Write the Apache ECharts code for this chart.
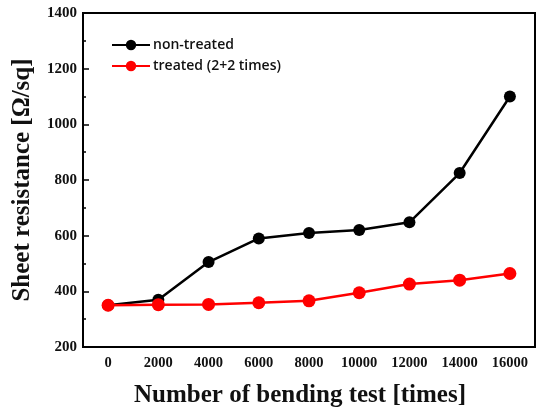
<!DOCTYPE html>
<html>
<head>
<meta charset="utf-8">
<script src="https://cdn.jsdelivr.net/npm/echarts@6/dist/echarts.min.js"></script>
<style>
  html, body { margin: 0; padding: 0; background: #fff; }
  #chart { width: 537px; height: 413px; }
</style>
</head>
<body>
<div id="chart"></div>
<script>
// bending cycles (x categories)
var cycles = ['0', '2000', '4000', '6000', '8000', '10000', '12000', '14000', '16000'];
// sheet resistance readings [ohm/sq]
var nonTreated = [350, 370, 505, 590, 610, 620, 648, 825, 1100];
var treated = [350, 352, 353, 359, 366, 395, 426, 440, 464];

var serif = '"Liberation Serif", "DejaVu Serif", serif';

var chart = echarts.init(document.getElementById('chart'));
chart.setOption({
  animation: false,
  grid: {
    left: 83, right: 2, top: 13, bottom: 64,
    show: true, borderColor: '#000', borderWidth: 2
  },
  legend: {
    orient: 'vertical',
    left: 106, top: 33,
    itemWidth: 38, itemHeight: 13, itemGap: 7,
    textStyle: { fontFamily: '"Open Sans", sans-serif', fontWeight: 600, fontSize: 14, color: '#111', padding: [0, 0, 0, -2] },
    data: ['non-treated', 'treated (2+2 times)']
  },
  xAxis: {
    type: 'category',
    data: cycles,
    boundaryGap: true,
    name: 'Number of bending test [times]',
    nameLocation: 'middle',
    nameGap: 36,
    nameTextStyle: { fontFamily: serif, fontWeight: 'bold', fontSize: 25, color: '#111', padding: [0, 18, 0, 0] },
    axisLine: { lineStyle: { color: '#000', width: 2 } },
    axisTick: { alignWithLabel: true, inside: true, length: 6, lineStyle: { color: '#000', width: 1.5 } },
    axisLabel: { fontFamily: serif, fontWeight: 'bold', fontSize: 14.5, color: '#111', margin: 9 },
    splitLine: { show: false }
  },
  yAxis: [
    {
      type: 'value',
      min: 200, max: 1400, interval: 200,
      name: 'Sheet resistance [\u03A9/sq]',
      nameLocation: 'middle',
      nameGap: 48,
      nameTextStyle: { fontFamily: serif, fontWeight: 'bold', fontSize: 25, color: '#111' },
      axisLine: { show: true, lineStyle: { color: '#000', width: 2 } },
      axisTick: { show: true, inside: true, length: 6, lineStyle: { color: '#000', width: 1.5 } },
      axisLabel: {
        fontFamily: serif, fontWeight: 'bold', fontSize: 15, color: '#111', margin: 6,
        formatter: function (v) { return String(v); }
      },
      splitLine: { show: false }
    },
    {
      // only supplies the short inner ticks at every 100
      type: 'value',
      position: 'left',
      min: 200, max: 1400, interval: 100,
      axisLine: { show: false },
      axisTick: { show: true, inside: true, length: 3, lineStyle: { color: '#000', width: 1.5 } },
      axisLabel: { show: false },
      splitLine: { show: false }
    }
  ],
  series: [
    {
      name: 'non-treated',
      type: 'line',
      data: nonTreated,
      symbol: 'circle',
      symbolSize: 12,
      itemStyle: { color: '#000' },
      lineStyle: { color: '#000', width: 2.5 }
    },
    {
      name: 'treated (2+2 times)',
      type: 'line',
      data: treated,
      symbol: 'circle',
      symbolSize: 13,
      itemStyle: { color: '#ff0000' },
      lineStyle: { color: '#ff0000', width: 2.5 }
    }
  ]
});
</script>
</body>
</html>
